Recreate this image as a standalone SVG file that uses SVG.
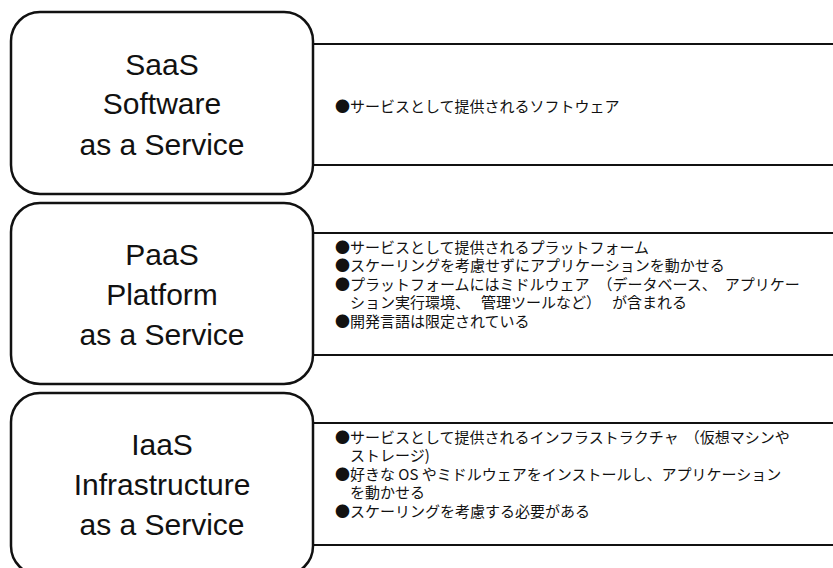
<svg xmlns="http://www.w3.org/2000/svg" width="833" height="568" viewBox="0 0 833 568">
<style>
.box{fill:#fff;stroke:#111;stroke-width:2.5}
.pl{stroke:#111;stroke-width:2.2;fill:none}
.t{font-family:"Liberation Sans",Arial,sans-serif;font-size:30px;fill:#111;text-anchor:middle}
.d{font-family:"Noto Sans CJK JP","Noto Sans",sans-serif;font-size:15px;fill:#111}
</style>
<rect width="833" height="568" fill="#fff"/>
<g id="connectors">
<line class="pl" x1="313" y1="44" x2="833" y2="44"/>
<line class="pl" x1="313" y1="165" x2="833" y2="165"/>
<line class="pl" x1="313" y1="233" x2="833" y2="233"/>
<line class="pl" x1="313" y1="355" x2="833" y2="355"/>
<line class="pl" x1="313" y1="423" x2="833" y2="423"/>
<line class="pl" x1="313" y1="545" x2="833" y2="545"/>
</g>
<g id="saas">
<rect class="box" x="11" y="12" width="302" height="182" rx="29"/>
<text class="t" x="162" y="75">SaaS</text>
<text class="t" x="162" y="114">Software</text>
<text class="t" x="162" y="155">as a Service</text>
</g>
<g id="saas-desc">
<text class="d" x="335" y="112">●サービスとして提供されるソフトウェア</text>
</g>
<g id="paas">
<rect class="box" x="11" y="203" width="302" height="181" rx="29"/>
<text class="t" x="162" y="265">PaaS</text>
<text class="t" x="162" y="305">Platform</text>
<text class="t" x="162" y="345">as a Service</text>
</g>
<g id="paas-desc">
<text class="d" x="335" y="252.5">●サービスとして提供されるプラットフォーム</text>
<text class="d" x="335" y="271">●スケーリングを考慮せずにアプリケーションを動かせる</text>
<text class="d" x="335" y="289.5">●プラットフォームにはミドルウェア<tspan dx="8">（</tspan>データベース、<tspan dx="8">ア</tspan>プリケー</text>
<text class="d" x="350" y="308">ション実行環境、<tspan dx="11">管</tspan>理ツールなど）<tspan dx="11">が</tspan>含まれる</text>
<text class="d" x="335" y="326.5">●開発言語は限定されている</text>
</g>
<g id="iaas">
<rect class="box" x="11" y="393" width="302" height="182" rx="29"/>
<text class="t" x="162" y="455">IaaS</text>
<text class="t" x="162" y="495">Infrastructure</text>
<text class="t" x="162" y="535">as a Service</text>
</g>
<g id="iaas-desc">
<text class="d" x="335" y="442.5">●サービスとして提供されるインフラストラクチャ<tspan dx="6">（</tspan>仮想マシンや</text>
<text class="d" x="350" y="461">ストレージ)</text>
<text class="d" x="335" y="479.5">●好きな OS やミドルウェアをインストールし、アプリケーション</text>
<text class="d" x="350" y="498">を動かせる</text>
<text class="d" x="335" y="516.5">●スケーリングを考慮する必要がある</text>
</g>
</svg>
